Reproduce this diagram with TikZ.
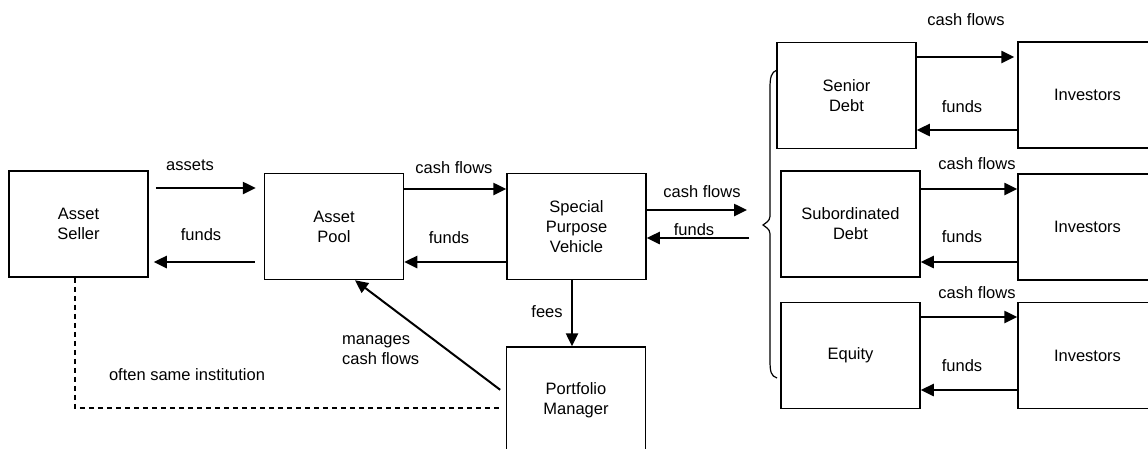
\documentclass[tikz,border=0pt]{standalone}
\usepackage{fontspec}
\setmainfont{Liberation Sans}
\usetikzlibrary{arrows.meta}
\begin{document}
\begin{tikzpicture}[x=1pt,y=-1pt,
  every node/.style={font=\fontsize{16.5}{20}\selectfont},
  box/.style={draw,line width=1.5pt,minimum width=139pt,minimum height=106pt,align=center,inner sep=0pt},
  arr/.style={line width=2.5pt,-{Triangle[length=13pt,width=12pt]}},
  thinarr/.style={line width=2pt,-{Triangle[length=13pt,width=12pt]}},
  lbl/.style={inner sep=0pt,align=left}]
\useasboundingbox (0,0) rectangle (1148,448);
\fill[white] (0,0) rectangle (1148,448);
\clip (0,0) rectangle (1148,448);

% boxes
\node[box] (seller) at (78.5,224) {Asset\\Seller};
\node[box] (pool) at (334,226.5) {Asset\\Pool};
\node[box] (spv) at (576.5,226.5) {Special\\Purpose\\Vehicle};
\node[box] (pm) at (576,400) {Portfolio\\Manager};
\node[box] (sen) at (846.5,95.5) {Senior\\Debt};
\node[box] (inv1) at (1087.5,95) {Investors};
\node[box] (sub) at (850.5,224) {Subordinated\\Debt};
\node[box] (inv2) at (1087.5,227) {Investors};
\node[box] (eq) at (850.5,355.5) {Equity};
\node[box] (inv3) at (1087.5,355.5) {Investors};

% left arrows
\draw[arr,shorten <=7pt,shorten >=8pt] (seller.east |- 0,188) -- (pool.west |- 0,188);
\draw[arr,shorten <=9pt,shorten >=5pt] (pool.west |- 0,262) -- (seller.east |- 0,262);
\draw[arr] (pool.east |- 0,189) -- (spv.west |- 0,189);
\draw[arr] (spv.west |- 0,262) -- (pool.east |- 0,262);
\coordinate (bcf) at (747,210);
\coordinate (bf) at (749,238);
\draw[arr] (spv.east |- bcf) -- (bcf);
\draw[arr] (bf) -- (spv.east |- bf);

% right arrows
\draw[arr,shorten >=3pt] (sen.east |- 0,57) -- (inv1.west |- 0,57);
\draw[arr] (inv1.west |- 0,130) -- (sen.east |- 0,130);
\draw[arr] (sub.east |- 0,189) -- (inv2.west |- 0,189);
\draw[arr] (inv2.west |- 0,262) -- (sub.east |- 0,262);
\draw[arr] (eq.east |- 0,317) -- (inv3.west |- 0,317);
\draw[arr] (inv3.west |- 0,390) -- (eq.east |- 0,390);

% fees, manages, dashed
\draw[arr] ([xshift=-4.5pt]spv.south) -- ([xshift=-4pt]pm.north);
\draw[thinarr,shorten <=7pt] (pm.west |- 0,394) -- (pool.south -| 355,0);
\draw[line width=1.5pt,dash pattern=on 5pt off 4pt,shorten >=7pt] (seller.south -| 75,0) |- (pm.west |- 0,408);

% brace
\draw[line width=1.2pt] (777,70) .. controls (771,72) and (770,78) .. (770,88) -- (770,212)
  .. controls (770,220) .. (763,225) .. controls (770,230) .. (770,238) -- (770,360)
  .. controls (770,372) and (771,376) .. (777,378);

% labels
\node[lbl] (la) at (190,165) {assets};
\node[lbl] (lb) at (201,235) {funds};
\node[lbl] (lc) at (454,168) {cash flows};
\node[lbl] (ld) at (449,238) {funds};
\node[lbl] (le) at (702,192) {cash flows};
\node[lbl] (lf) at (694,230) {funds};
\node[lbl] (lg) at (966,20) {cash flows};
\node[lbl] (lh) at (962,107) {funds};
\node[lbl] (li) at (977,164) {cash flows};
\node[lbl] (lj) at (962,237) {funds};
\node[lbl] (lk) at (977,293) {cash flows};
\node[lbl] (ll) at (962,366) {funds};
\node[lbl] (lm) at (547,312) {fees};
\node[lbl,anchor=west] (ln) at (342,350) {manages\\cash flows};
\node[lbl] (lo) at (187,375) {often same institution};
\end{tikzpicture}
\end{document}
